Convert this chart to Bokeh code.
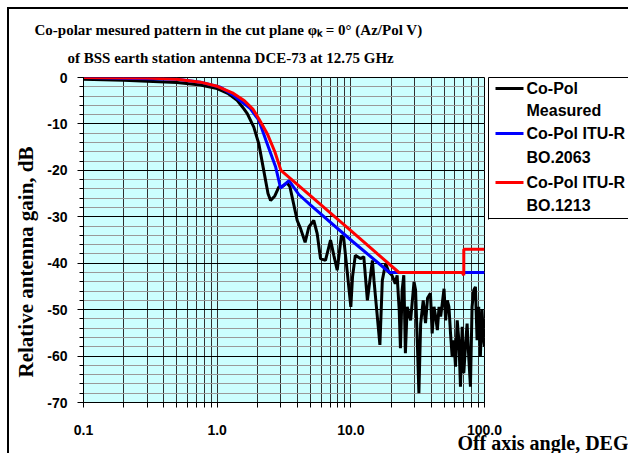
from bokeh.plotting import figure
from bokeh.models import (Range1d, FixedTicker, CustomJSTickFormatter, Title, LinearAxis)
from bokeh.embed import file_html
from bokeh.resources import INLINE

# ---------------- data ----------------
meas_angle = [
    0.1, 0.2, 0.3, 0.5, 0.75, 1.0, 1.2, 1.41, 1.58, 1.68,
    1.88, 2.05, 2.23, 2.4, 2.51, 2.7, 2.89, 3.1, 3.33, 3.5,
    3.97, 4.2, 4.55, 4.85, 5.28, 5.6, 5.93, 6.46, 7.05, 7.46,
    7.91, 8.5, 8.85, 9.37, 10.0, 10.3, 10.8, 11.8, 12.5, 13.3,
    14.5, 14.9, 16.5, 17.2, 18.2, 19.2, 20.3, 21.5, 22.2, 23.0,
    23.5, 24.2, 24.9, 25.6, 26.4, 28.0, 29.7, 30.5, 31.4, 32.3,
    33.3, 34.8, 36.2, 37.5, 39.4, 40.6, 41.9, 43.1, 44.4, 45.7,
    47.0, 49.8, 51.2, 52.7, 54.2, 55.7, 57.3, 59.0, 60.7, 62.5,
    64.3, 66.1, 68.1, 70.0, 72.0, 74.1, 76.2, 78.5, 80.7, 83.1,
    85.5, 88.0, 90.5, 93.1, 95.8, 98.6, 100.0]
meas_gain = [
    -0.4, -0.6, -0.8, -1.1, -1.6, -2.4, -3.4, -4.9, -6.7, -7.8,
    -10.7, -14.3, -20.0, -25.0, -26.5, -25.5, -23.6, -23.4, -22.7, -23.5,
    -30.8, -32.5, -35.5, -32.2, -30.8, -33.6, -39.0, -39.4, -35.0, -38.3,
    -41.5, -34.0, -34.7, -41.5, -49.4, -42.9, -38.3, -39.0, -38.6, -48.0,
    -39.4, -43.7, -57.6, -43.7, -40.0, -41.9, -42.6, -44.4, -42.6, -50.0,
    -58.3, -45.8, -42.6, -59.4, -49.4, -52.3, -44.0, -45.8, -56.6, -68.0,
    -53.0, -48.0, -52.9, -47.5, -46.5, -55.1, -49.4, -51.5, -54.4, -49.4,
    -51.5, -45.5, -52.3, -48.0, -49.4, -55.1, -60.2, -56.6, -62.3, -52.3,
    -56.6, -66.6, -53.7, -63.7, -58.0, -53.0, -60.2, -66.6, -49.4, -45.8,
    -45.1, -56.6, -49.4, -60.2, -50.1, -56.6, -58.0]

bo2063_angle = [0.1, 0.5, 0.75, 1.06, 1.33, 1.77, 2.05, 2.37, 2.74, 2.98,
                3.45, 4.08, 5.0, 10.0, 19.5, 100.0]
bo2063_gain = [0.0, -0.4, -1.0, -2.1, -3.9, -6.7, -9.2, -14.3, -19.3, -23.8,
               -22.2, -25.2, -27.5, -35.0, -42.0, -42.0]

bo1213_angle = [0.1, 0.3, 0.5, 0.75, 1.0, 1.3, 1.6, 1.85, 2.05, 2.37,
                2.7, 3.0, 5.0, 10.0, 22.9, 68.0, 70.0, 70.0, 100.0]
bo1213_gain = [0.0, -0.1, -0.4, -1.0, -1.9, -3.3, -5.0, -6.8, -8.9, -12.1,
               -16.0, -20.0, -25.5, -33.0, -42.0, -42.0, -42.6, -37.0, -37.0]

x_ticks = [m * 10.0 ** e for e in (-1, 0, 1) for m in range(1, 10)] + [100.0]
y_major = list(range(-70, 1, 10))
y_minor = list(range(-70, 1, 2))

series_colors = ["black", "#0000FF", "#FF0000"]
legend_text = ["Co-Pol", "Measured", "Co-Pol ITU-R", "BO.2063", "Co-Pol ITU-R", "BO.1213"]

title_lines = ["Co-polar mesured pattern in the cut plane \u03c6\u2096 = 0\u00b0 (Az/Pol V)",
               "of BSS earth station antenna DCE-73 at 12.75 GHz"]
y_title = "Relative antenna gain, dB"
x_title = "Off axis angle, DEG"

# ---------------- layout ----------------
W, H = 628, 453
FL, FR, FT, FB = 83, 484, 77, 402   # frame edges in figure px

p = figure(width=W, height=H, x_axis_type="log",
           x_range=Range1d(0.1, 100), y_range=Range1d(-70, 0),
           output_backend="svg", toolbar_location=None,
           min_border_left=FL, min_border_right=W - FR,
           min_border_top=FT, min_border_bottom=H - FB)
p.background_fill_color = "#CCFFFF"
p.border_fill_alpha = 0
p.outline_line_color = "black"
p.styles = {"background": "linear-gradient(#000,#000) 7px 7px/2px 100% no-repeat, "
                          "linear-gradient(#000,#000) 7px 7px/100% 2px no-repeat, #ffffff"}

# grids
p.xgrid.ticker = FixedTicker(ticks=x_ticks)
p.xgrid.grid_line_color = "#303030"
p.ygrid.ticker = FixedTicker(ticks=y_major, minor_ticks=y_minor)
p.ygrid.grid_line_color = "black"
p.ygrid.minor_grid_line_color = "#9A9A9A"

# axes
tick_font = "Liberation Sans"
serif = "Liberation Serif"
p.yaxis.ticker = FixedTicker(ticks=y_major, minor_ticks=y_minor)
p.yaxis.formatter = CustomJSTickFormatter(code="return tick.toFixed(0);")
p.yaxis.major_tick_out = 6
p.yaxis.major_tick_in = 0
p.yaxis.minor_tick_out = 4
p.yaxis.minor_tick_in = 0
p.yaxis.major_label_standoff = 10
p.xaxis.ticker = FixedTicker(ticks=x_ticks)
p.xaxis.formatter = CustomJSTickFormatter(code="""
const l = Math.log10(tick);
if (Math.abs(l - Math.round(l)) < 1e-6) { return tick.toFixed(1); }
return "";
""")
p.xaxis.major_tick_out = 5
p.xaxis.major_tick_in = 0
p.xaxis.minor_tick_out = 0
p.xaxis.major_label_standoff = 17
for ax in (p.xaxis, p.yaxis):
    ax.major_label_text_font = tick_font
    ax.major_label_text_font_style = "bold"
    ax.major_label_text_font_size = "14px"
    ax.major_label_text_color = "black"
    ax.axis_line_color = "black"
    ax.major_tick_line_color = "black"
    ax.minor_tick_line_color = "black"

# series
p.line(meas_angle, meas_gain, line_color=series_colors[0], line_width=3)
p.line(bo2063_angle, bo2063_gain, line_color=series_colors[1], line_width=3)
p.line(bo1213_angle, bo1213_gain, line_color=series_colors[2], line_width=3)

# titles (line 2 first: it sits closest to the frame)
t2 = Title(text=title_lines[1], align="left", offset=-16, vertical_align="middle",
           standoff=21, text_font=serif, text_font_style="bold", text_font_size="15px",
           text_color="black")
t1 = Title(text=title_lines[0], align="left", offset=-49, vertical_align="middle",
           standoff=-1, text_font=serif, text_font_style="bold", text_font_size="15px",
           text_color="black")
p.add_layout(t2, "above")
p.add_layout(t1, "above")

ty = Title(text=y_title, align="left", offset=25, vertical_align="middle", standoff=11,
           text_font=serif, text_font_style="bold", text_font_size="21px", text_color="black")
p.add_layout(ty, "left")

tx = Title(text=x_title, align="right", offset=-144, vertical_align="middle", standoff=-13,
           text_font=serif, text_font_style="bold", text_font_size="20px", text_color="black")
p.add_layout(tx, "below")

# ---------------- legend, built from axes in the right panel ----------------
# a pixel-scaled range for the legend column (1 unit = 1 px, 0 at frame bottom)
p.extra_y_ranges = {"legend": Range1d(0, FB - FT)}
ROW_PX = [88, 110, 133, 157, 182, 205]          # row centres (figure px)
BOX_TOP, BOX_BOTTOM = 77, 218
rows = [FB - r for r in ROW_PX]
box_v = [FB - BOX_BOTTOM, FB - BOX_TOP]
box_bounds = (box_v[0] - 1, box_v[1] + 1)
blank = CustomJSTickFormatter(code="return '';")

def legend_axis(ticks, **kw):
    ax = LinearAxis(y_range_name="legend", ticker=FixedTicker(ticks=ticks), bounds=box_bounds,
                    formatter=blank, axis_line_alpha=0, major_tick_in=0, major_tick_out=0,
                    minor_tick_in=0, minor_tick_out=0, major_label_standoff=0,
                    major_label_text_font_size="1px")
    for k, v in kw.items():
        setattr(ax, k, v)
    p.add_layout(ax, "right")
    return ax

# spacer 4px -> left edge of the legend box
legend_axis([rows[0]], major_tick_out=4, major_tick_line_alpha=0)
# left border of the legend box
legend_axis([rows[0]], axis_line_alpha=1, axis_line_color="black", axis_line_width=1,
            major_tick_line_alpha=0)
# spacer 35px -> right end of the legend swatches
legend_axis([rows[0]], major_tick_out=35, major_tick_line_alpha=0)
# swatch lines (drawn inward, 28 px long)
for col, r in zip(series_colors, rows[0::2]):
    legend_axis([r], major_tick_in=28, major_tick_line_color=col, major_tick_line_width=3)
# first part of the top and bottom borders (inward, back to the left border)
legend_axis(box_v, major_tick_in=35, major_tick_line_color="black", major_tick_line_width=1)
# legend text
legend_axis(rows, formatter=CustomJSTickFormatter(args=dict(rows=rows, labels=legend_text), code="""
const i = rows.indexOf(Math.round(tick));
return i >= 0 ? labels[i] : "";
"""), major_label_standoff=3, major_label_text_font=tick_font,
            major_label_text_font_style="bold", major_label_text_font_size="16px",
            major_label_text_color="black", major_tick_line_alpha=0)
# rest of the top and bottom borders (inward from the far edge of the text)
legend_axis(box_v, major_tick_in=110, major_tick_line_color="black", major_tick_line_width=1)

open("out.html", "w").write(file_html(p, INLINE))
